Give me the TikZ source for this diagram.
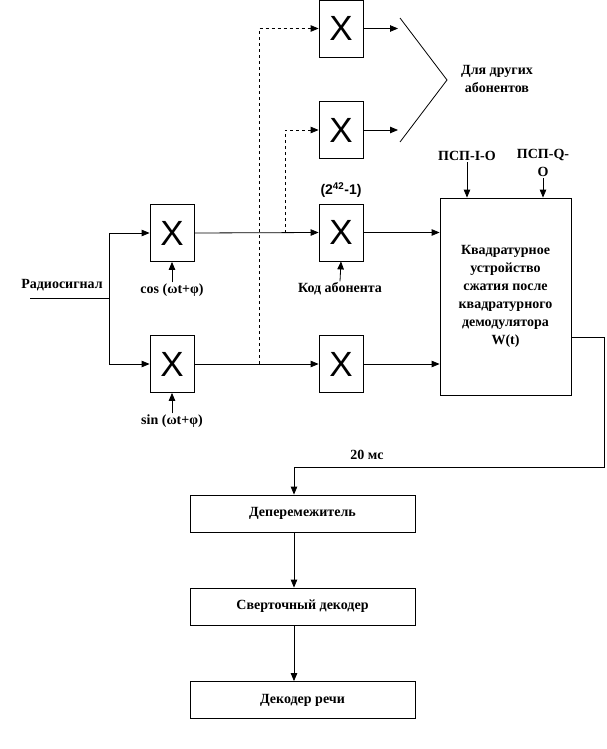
\documentclass[tikz,border=0pt]{standalone}
\usepackage{fontspec}
\setmainfont{Liberation Serif}
\setsansfont{Liberation Sans}
\usetikzlibrary{arrows.meta}

\begin{document}
\begin{tikzpicture}[x=1pt, y=-1pt, line width=0.8pt,
        >={Triangle[length=8pt,width=6.5pt]},
        mixer/.style={draw, minimum width=44pt, minimum height=57pt, inner sep=0pt,
            font=\sffamily\fontsize{35}{35}\selectfont},
        block/.style={draw, minimum width=225pt, minimum height=37pt,
            font=\bfseries\fontsize{14}{16}\selectfont},
        lbl/.style={font=\bfseries\fontsize{14}{18}\selectfont, align=center, inner sep=1pt}]
        \useasboundingbox (0,0) rectangle (607,749);

        % Quadrature mixers
        \node[mixer] (mcos) at (172,233) {X};
        \node[mixer] (msin) at (172,364) {X};

        % Code mixers
        \node[mixer] (mtop) at (341,28.5) {X};
        \node[mixer] (mmid) at (341,130) {X};
        \node[mixer] (mcode) at (341,232.5) {X};
        \node[mixer] (mq) at (341,364) {X};

        % Quadrature despreader
        \node[draw, minimum width=131pt, minimum height=197pt, lbl] (quad) at (505.5,296.5)
            {Квадратурное\\устройство\\сжатия после\\квадратурного\\демодулятора\\W(t)};

        % Decoding chain
        \node[block] (deint) at (302.5,513.5) {Деперемежитель};
        \node[block] (conv) at (302.5,606.5) {Сверточный декодер};
        \node[block] (speech) at (302.5,700) {Декодер речи};

        % Labels
        \node[lbl] (radio) at (62,285) {Радиосигнал};
        \node[lbl] (cosl) at (172,290) {cos (ωt+φ)};
        \node[lbl] (sinl) at (172,421) {sin (ωt+φ)};
        \node[lbl] (codel) at (340,289) {Код абонента};
        \node[font=\sffamily\bfseries\fontsize{14}{16}\selectfont] (pow) at (341,190) {(2\textsuperscript{42}-1)};
        \node[lbl] (others) at (497,79) {Для других\\абонентов};
        \node[lbl] (psi) at (467,156) {ПСП-I-O};
        \node[lbl] (psq) at (543,163) {ПСП-Q-\\O};
        \node[lbl] (ms) at (367,455) {20 мс};

        % Free ends
        \coordinate (in) at (30,298);
        \coordinate (split) at (109,298);
        \coordinate (d1) at (259,364);
        \coordinate (d2) at (285,233);
        \coordinate (otop) at (398,28.5);
        \coordinate (omid) at (398,130);
        \coordinate (ftop) at (400,18);
        \coordinate (fan) at (447,80);
        \coordinate (fbot) at (400,142);
        \coordinate (qout) at (571,337);
        \coordinate (turn) at (604,467);
        \coordinate (col) at (294,467);

        % Input split
        \draw (in) -- (split);
        \draw[->] (split) |- (mcos.west);
        \draw[->] (split) |- (msin.west);
        \draw[->] (cosl.north) -- (mcos.south);
        \draw[->] (sinl.north) -- (msin.south);

        % I and Q paths
        \draw[->] (mcos.east) -- (mcode.west);
        \draw[->] (msin.east) -- (mq.west);
        \draw[->] (codel.north) -- (mcode.south);
        \draw[->] (mcode.east) -- (mcode.east -| quad.west);
        \draw[->] (mq.east) -- (mq.east -| quad.west);

        % Other subscribers
        \draw[dashed, ->] (d1) |- (mtop.west);
        \draw[dashed, ->] (d2) |- (mmid.west);
        \draw[->] (mtop.east) -- (otop);
        \draw[->] (mmid.east) -- (omid);
        \draw (ftop) -- (fan) -- (fbot);

        % PN sequences
        \draw[->] (psi.south) -- (psi.south |- quad.north);
        \draw[->] (psq.south) -- (psq.south |- quad.north);

        % Output to decoders
        \draw (qout) -| (turn) -- (col);
        \draw[->] (col) -- (col |- deint.north);
        \draw[->] (deint.south -| col) -- (conv.north -| col);
        \draw[->] (conv.south -| col) -- (speech.north -| col);
\end{tikzpicture}
\end{document}
